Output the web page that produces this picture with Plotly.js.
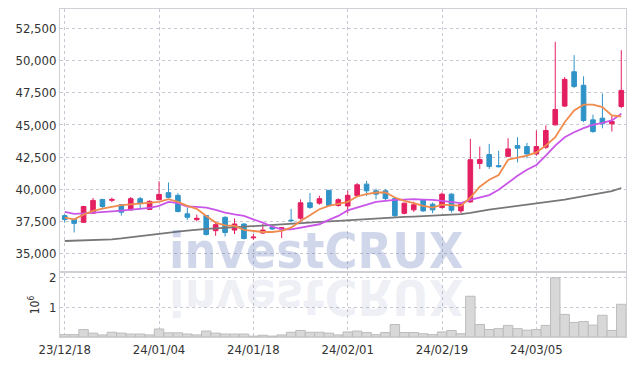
<!DOCTYPE html>
<html>
<head>
<meta charset="utf-8">
<script src="https://cdn.plot.ly/plotly-3.0.1.min.js"></script>
<style>
html,body{margin:0;padding:0;background:#fff;}
#chart{width:634px;height:366px;}
</style>
</head>
<body>
<div id="chart"></div>
<script>
const dates = ['23/12/18','23/12/19','23/12/20','23/12/21','23/12/22','23/12/26','23/12/27','23/12/28','24/01/02','24/01/03',
'24/01/04','24/01/05','24/01/08','24/01/09','24/01/10','24/01/11','24/01/12','24/01/15','24/01/16','24/01/17',
'24/01/18','24/01/19','24/01/22','24/01/23','24/01/24','24/01/25','24/01/26','24/01/29','24/01/30','24/01/31',
'24/02/01','24/02/02','24/02/05','24/02/06','24/02/07','24/02/08','24/02/13','24/02/14','24/02/15','24/02/16',
'24/02/19','24/02/20','24/02/21','24/02/22','24/02/23','24/02/26','24/02/27','24/02/28','24/02/29','24/03/04',
'24/03/05','24/03/06','24/03/07','24/03/08','24/03/11','24/03/12','24/03/13','24/03/14','24/03/15','24/03/18'];

const openP = [37950,37660,37430,38140,39210,39140,38800,38400,39270,38430,
39190,39740,39530,38090,37640,37960,36780,37820,36830,37300,
36230,36600,37040,36910,37600,37750,38950,38920,39920,38740,
38700,39500,40400,39880,39880,39280,38130,38400,39170,38840,
38580,39620,38320,39020,42010,42700,41840,42560,43400,43320,
42750,43270,45010,46470,49140,48090,45400,45530,45090,46440];
const highP = [38050,37700,38720,39320,39250,39350,38850,39400,39400,39150,
40630,40530,39700,38560,38030,38000,37480,37900,37740,37350,
36520,37300,37150,37050,38480,39210,39710,39500,39950,39300,
39890,40480,40660,40060,40000,39350,38950,39040,39250,38970,
39750,39700,38900,43920,43320,43530,43000,43970,44050,43610,
44570,44960,51470,48730,50430,48790,45800,47440,45740,50820];
const lowP = [37400,36640,37380,38100,38430,39000,37950,38350,38430,38400,
39150,39300,38200,37620,37510,36400,36380,36330,36520,36100,
36070,36520,36850,36200,37430,37640,38480,38800,38700,38650,
38140,39450,39490,39230,39150,37800,38050,38240,38250,38140,
38500,38190,38140,38950,41580,41580,41700,42500,42090,42400,
42610,43140,44960,46390,47870,45220,44390,44740,44490,46310];
const closeP = [37650,37350,38660,39135,38660,39210,38220,39270,38920,39060,
39600,39370,38270,37820,37745,36490,37250,36640,37300,36170,
36280,36830,36910,37010,37560,38950,38590,39270,38740,39190,
39530,40350,39880,39620,39280,37950,38920,38790,38320,38400,
39620,38370,38840,42300,42310,41780,41760,43140,43190,42750,
43320,44570,46210,48550,48000,45350,44490,45090,45270,47690];

const ma5 = [37800,37660,38030,38320,38500,38630,38770,38830,38900,38950,
39020,39230,39020,38710,38480,37930,37410,37200,37150,36840,
36760,36680,36680,36760,37020,37540,37980,38450,38710,38870,
39020,39440,39630,39750,39750,39360,39100,38920,38710,38580,
38810,38770,38710,39360,40200,40740,41110,42300,42480,42620,
42870,43400,44050,45220,46130,46580,46580,46390,45740,45660];
const ma20 = [38240,38090,38120,38160,38240,38280,38340,38400,38450,38560,
38710,39020,38920,38660,38630,38580,38400,38190,38050,37930,
37660,37410,37090,36890,36890,37020,37150,37280,37620,37930,
38360,38580,38830,39020,39100,39180,39200,39230,39200,39180,
39100,39020,38920,39180,39340,39550,39960,40530,41050,41520,
41890,42620,43400,44050,44440,44750,45010,45170,45350,45870];
const ma120 = [35980,36000,36020,36040,36060,36110,36180,36260,36340,36410,
36500,36600,36700,36790,36870,36920,36960,37000,37040,37090,
37150,37180,37220,37260,37300,37340,37400,37450,37500,37550,
37600,37640,37680,37710,37750,37800,37850,37880,37910,37940,
37980,38020,38070,38170,38320,38420,38520,38610,38700,38800,
38900,38990,39080,39190,39330,39450,39560,39680,39850,40100];

const volume = [80000,80000,250000,130000,70000,160000,130000,100000,100000,70000,
270000,140000,140000,100000,70000,200000,130000,100000,100000,100000,
30000,60000,30000,70000,160000,220000,160000,160000,130000,70000,
170000,200000,150000,80000,150000,420000,150000,150000,110000,80000,
170000,220000,110000,1370000,420000,250000,280000,390000,280000,230000,
250000,390000,1990000,760000,490000,520000,400000,730000,220000,1100000];

const priceTicks = [35000,37500,40000,42500,45000,47500,50000,52500];
const volTicks = [1000000,2000000];
const volTickText = ['1','2'];
const dateTicks = ['23/12/18','24/01/04','24/01/18','24/02/01','24/02/19','24/03/05'];

const RED = '#e41f61', BLUE = '#2f93c8';
const FONT = '"DejaVu Sans Condensed","Liberation Sans Narrow","Arial Narrow",sans-serif';

const traces = [
  {type:'candlestick', x:dates, open:openP, high:highP, low:lowP, close:closeP,
   xaxis:'x', yaxis:'y',
   increasing:{line:{color:RED,width:1}, fillcolor:RED},
   decreasing:{line:{color:BLUE,width:1}, fillcolor:BLUE},
   whiskerwidth:0, showlegend:false, hoverinfo:'skip'},
  {type:'scatter', mode:'lines', x:dates, y:ma120, xaxis:'x', yaxis:'y',
   line:{color:'#777777', width:1.8}, showlegend:false, hoverinfo:'skip'},
  {type:'scatter', mode:'lines', x:dates, y:ma20, xaxis:'x', yaxis:'y',
   line:{color:'#c956e8', width:1.8}, showlegend:false, hoverinfo:'skip'},
  {type:'scatter', mode:'lines', x:dates, y:ma5, xaxis:'x', yaxis:'y',
   line:{color:'#f08b4e', width:1.8}, showlegend:false, hoverinfo:'skip'},
  {type:'bar', x:dates, y:volume, xaxis:'x2', yaxis:'y2',
   marker:{color:'#d8d8d8', line:{color:'#bcbcbc', width:1}},
   showlegend:false, hoverinfo:'skip'}
];

const gridStyle = {showgrid:true, gridcolor:'#c8c8d4', griddash:'dot', gridwidth:1};

const layout = {
  width:634, height:366,
  margin:{l:60, r:8, t:9, b:29},
  paper_bgcolor:'#fff', plot_bgcolor:'#fff',
  font:{family:FONT, size:13, color:'#333'},
  bargap:0,
  xaxis: Object.assign({type:'category', domain:[0,1], anchor:'y', range:[-0.5,59.5],
    rangeslider:{visible:false}, tickvals:dateTicks, showticklabels:false, ticks:'',
    showline:true, mirror:true, linecolor:'#cfcfd6', linewidth:1, zeroline:false}, gridStyle),
  yaxis: Object.assign({domain:[0.201,1], anchor:'x', range:[33640,54020],
    tickvals:priceTicks, tickformat:',', ticks:'', ticklen:0,
    showline:true, mirror:true, linecolor:'#cfcfd6', linewidth:1, zeroline:false,
    tickfont:{family:FONT, size:13, color:'#333'}}, gridStyle),
  xaxis2: Object.assign({type:'category', domain:[0,1], anchor:'y2', matches:'x', range:[-0.5,59.5],
    tickvals:dateTicks, ticks:'', tickangle:0,
    showline:true, mirror:true, linecolor:'#cfcfd6', linewidth:1, zeroline:false,
    tickfont:{family:FONT, size:13, color:'#333'}}, gridStyle),
  yaxis2: Object.assign({domain:[0,0.195], anchor:'x2', range:[0,2150000],
    tickvals:volTicks, ticktext:volTickText, ticks:'',
    showline:true, mirror:true, linecolor:'#cfcfd6', linewidth:1, zeroline:false,
    title:{text:'10<sup>6</sup>', standoff:6, font:{family:FONT, size:12, color:'#333'}},
    tickfont:{family:FONT, size:13, color:'#333'}}, gridStyle),
  annotations:[
    {text:'investCRUX', xref:'paper', yref:'paper', x:0.452, y:0.262, xanchor:'center', yanchor:'middle',
     showarrow:false, font:{family:FONT, size:50, weight:'bold', color:'rgba(70,95,170,0.25)'}},
    {text:'investCRUX', xref:'paper', yref:'paper', x:0.452, y:0.122, xanchor:'center', yanchor:'middle',
     showarrow:false, font:{family:FONT, size:50, weight:'bold', color:'rgba(90,100,150,0.11)'}}
  ]
};

const gd = document.getElementById('chart');
Plotly.newPlot(gd, traces, layout, {staticPlot:true, displayModeBar:false}).then(function(){
  const anns = gd.querySelectorAll('g.annotation');
  if (anns.length > 1) {
    const refl = anns[1];
    const bb = refl.getBBox();
    const cy = bb.y + bb.height/2;
    refl.setAttribute('transform', 'translate(0,' + (2*cy) + ') scale(1,-1)');
  }
});
</script>
</body>
</html>
